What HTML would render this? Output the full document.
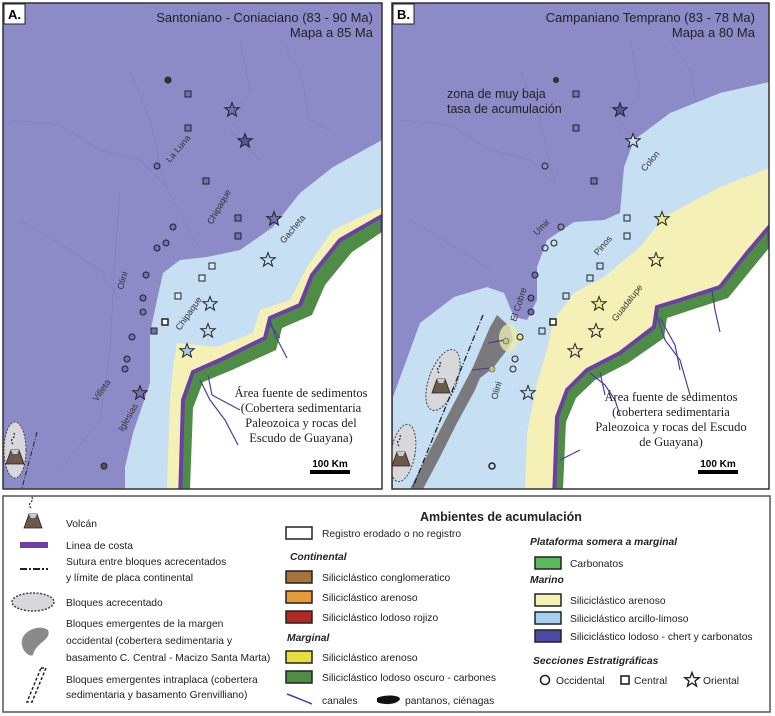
<!DOCTYPE html>
<html><head><meta charset="utf-8">
<style>
html,body{margin:0;padding:0;background:#fff;}
svg{display:block;}
text{font-family:"Liberation Sans Narrow","Liberation Sans",sans-serif;}
.s{font-family:"Liberation Serif",serif;}
</style></head><body>
<svg width="775" height="716" viewBox="0 0 775 716" xmlns="http://www.w3.org/2000/svg">
<defs>
<g id="volc"><path d="M-2,-14 q-3,-3 0,-6 q3,-3 0,-6" fill="none" stroke="#222" stroke-width="1.2" stroke-dasharray="2 1.5"/><polygon points="-9,6 -4,-8 4,-8 9,6" fill="#6b5a4c" stroke="#222" stroke-width="0.8"/><polygon points="-4,-8 4,-8 2,-4 -2,-4" fill="#ccc"/></g>
<path id="st" d="M0,-7.5 L1.9,-2.4 7.2,-2.3 3.1,1 4.5,6.1 0,3.1 -4.5,6.1 -3.1,1 -7.2,-2.3 -1.9,-2.4Z"/>
<clipPath id="ca"><rect x="3" y="3" width="379" height="486"/></clipPath>
<clipPath id="cb"><rect x="392" y="3" width="377" height="486"/></clipPath>
</defs>

<!-- MAP A -->
<g clip-path="url(#ca)">
<rect x="3" y="3" width="379" height="486" fill="#8d8ac8"/>
<g fill="none" stroke="#7c78b6" stroke-width="0.5" opacity="0.8">
<path d="M10,120 L60,125 L100,150 L140,160 L165,185 L200,250"/><path d="M130,70 L150,120 L165,185"/><path d="M240,40 L250,90 L230,130 L260,160"/><path d="M280,40 L300,70 L310,120 L330,130"/><path d="M20,220 L70,250 L100,270 L120,300"/><path d="M120,190 L115,260 L110,350 L100,420 L60,470"/>
</g>
<polygon fill="#c6dff3" points="382,140 333,167 300,193 273,227 240,250 207,257 180,260 163,273 157,300 150,333 150,383 133,433 125,467 125,489 382,489"/>
<polygon fill="#f5f1b6" points="382,207 333,230 307,267 290,300 260,310 253,333 217,347 177,343 173,367 170,400 167,489 382,489"/>
<polygon fill="#4f8d47" stroke="#6d3fa6" stroke-width="4" points="382,216 340,240 312,275 300,305 270,318 265,338 220,360 193,372 183,400 180,500 390,500"/>
<polygon fill="#fff" points="382,232 352,252 325,285 312,315 282,328 276,350 232,370 203,382 193,408 190,489 382,489"/>
<g fill="none" stroke="#4b3f9e" stroke-width="1.2"><path d="M208,375 L212,395 L240,410"/><path d="M200,380 L210,400 L225,420 L238,445"/><path d="M270,320 L275,335 L287,358"/><path d="M268,322 L280,338"/></g>
</g>
<rect x="3" y="3" width="379" height="486" fill="none" stroke="#333" stroke-width="1.5"/>
<rect x="4" y="4" width="21" height="20" fill="#fff" stroke="#222"/>
<text x="8" y="19" font-size="13" font-weight="bold" font-family="Liberation Sans">A.</text>
<text x="373" y="22" font-size="13" text-anchor="end" fill="#222">Santoniano - Coniaciano (83 - 90 Ma)</text>
<text x="373" y="37" font-size="13" text-anchor="end" fill="#222">Mapa a 85 Ma</text>
<g class="s" font-size="12.5" text-anchor="middle" fill="#222"><text class="s" x="301" y="397">Área fuente de sedimentos</text><text class="s" x="301" y="412">(Cobertera sedimentaria</text><text class="s" x="301" y="427">Paleozoica y rocas del</text><text class="s" x="301" y="442">Escudo de Guayana)</text></g>
<text x="330" y="467" font-size="10" font-weight="bold" text-anchor="middle" font-family="Liberation Sans">100 Km</text>
<rect x="310" y="470" width="40" height="4" fill="#000"/>
<ellipse cx="15" cy="450" rx="11" ry="28" fill="#d8d8dc" stroke="#444" stroke-dasharray="2 1.5"/>
<line x1="37" y1="432" x2="22" y2="488" stroke="#222" stroke-dasharray="5 2 1 2"/>
<use href="#volc" x="15" y="458"/>
<g font-size="9" fill="#333">
<text transform="translate(170,163) rotate(-50)">La Luna</text>
<text transform="translate(212,225) rotate(-60)">Chipaque</text>
<text transform="translate(284,244) rotate(-50)">Gacheta</text>
<text transform="translate(123,290) rotate(-75)">Olini</text>
<text transform="translate(180,331) rotate(-55)">Chipaque</text>
<text transform="translate(97,402) rotate(-55)">Villeta</text>
<text transform="translate(123,432) rotate(-60)">Iglesias</text>
</g>
<g stroke="#222" stroke-width="1" fill="#7470b8">
<circle cx="168" cy="80" r="3" fill="#333"/><circle cx="157" cy="166" r="3"/><circle cx="173" cy="227" r="3"/><circle cx="157" cy="248" r="3"/><circle cx="166" cy="243" r="3"/><circle cx="146" cy="275" r="3"/><circle cx="143" cy="298" r="3"/><circle cx="143" cy="312" r="3"/><circle cx="132" cy="337" r="3"/><circle cx="127" cy="359" r="3"/><circle cx="125" cy="369" r="3"/><circle cx="104" cy="466" r="3" fill="#555"/>
<rect x="185" y="91" width="6" height="6"/><rect x="185" y="125" width="6" height="6"/><rect x="203" y="178" width="6" height="6"/><rect x="235" y="215" width="6" height="6"/><rect x="235" y="233" width="6" height="6"/><rect x="151" y="328" width="6" height="6"/>
<rect x="209" y="263" width="6" height="6" fill="#dbe9f6"/><rect x="199" y="275" width="6" height="6" fill="#dbe9f6"/><rect x="175" y="293" width="6" height="6" fill="#dbe9f6"/><rect x="162" y="319" width="6" height="6" fill="#fff" stroke-width="1.5"/>
<use href="#st" x="232" y="110"/><use href="#st" x="245" y="141" fill="#5a55a0"/><use href="#st" x="274" y="219"/><use href="#st" x="140" y="393"/>
<use href="#st" x="268" y="260" fill="#c6dff3"/><use href="#st" x="210" y="304" fill="#c6dff3"/><use href="#st" x="208" y="331" fill="#c6dff3"/><use href="#st" x="187" y="351" fill="#a9cdee"/>
</g>

<!-- MAP B -->
<g clip-path="url(#cb)">
<rect x="392" y="3" width="377" height="486" fill="#8d8ac8"/>
<g fill="none" stroke="#7c78b6" stroke-width="0.5" opacity="0.8">
<path d="M400,120 L450,125 L490,150 L530,160 L555,185"/><path d="M520,70 L540,120 L555,185"/><path d="M630,40 L640,90 L620,130"/><path d="M670,40 L690,70 L700,120"/><path d="M410,220 L460,250 L490,270"/>
</g>
<polygon fill="#c6dff3" points="769,82 720,93 670,113 634,140 624,167 620,213 604,220 574,222 547,240 537,267 537,300 527,320 514,317 504,293 487,287 454,297 420,323 393,397 393,489 769,489"/>
<polygon fill="#f5f1b6" points="769,168 720,187 664,217 640,247 604,277 574,293 554,320 547,350 537,383 527,433 525,489 769,489"/>
<polygon fill="#4f8d47" stroke="#6d3fa6" stroke-width="4" points="769,227 747,253 720,287 680,300 657,307 654,327 620,353 587,370 567,390 557,417 554,500 780,500"/>
<polygon fill="#fff" points="769,248 755,265 728,298 688,311 667,318 664,338 628,363 595,380 576,398 566,422 563,489 769,489"/>
<g fill="none" stroke="#4b3f9e" stroke-width="1.2"><path d="M655,310 L665,340 L680,360 L690,395"/><path d="M660,318 L675,345 L680,370"/><path d="M590,373 L605,385 L615,400 L620,415"/><path d="M600,372 L605,395"/><path d="M712,290 L715,310 L720,332"/><path d="M560,460 L580,450"/></g>
<polygon fill="#7a7a7c" points="497,315 510,327 513,340 507,350 493,368 480,378 475,390 457,423 440,457 423,489 410,489 440,430 473,367 490,327"/>
<ellipse cx="509" cy="338" rx="10" ry="14" fill="#e8eab0" opacity="0.8"/>
<g fill="none" stroke="#4b3f9e" stroke-width="1.2"><path d="M488,343 L505,340"/><path d="M472,370 L490,368"/></g>
<circle cx="506" cy="341" r="3" fill="#c9c07a" stroke="#555" stroke-width="0.6"/><circle cx="492" cy="369" r="3" fill="#c9c07a" stroke="#555" stroke-width="0.6"/>
<ellipse cx="443" cy="380" rx="14" ry="32" transform="rotate(20 443 380)" fill="#d8d8dc" stroke="#444" stroke-dasharray="2 1.5"/>
<ellipse cx="403" cy="453" rx="12" ry="29" transform="rotate(10 403 453)" fill="#d8d8dc" stroke="#444" stroke-dasharray="2 1.5"/>
<line x1="483" y1="315" x2="413" y2="487" stroke="#222" stroke-width="1.3" stroke-dasharray="6 2 1 2"/>
<use href="#volc" x="441" y="387"/><use href="#volc" x="401" y="460"/>
</g>
<rect x="392" y="3" width="377" height="486" fill="none" stroke="#333" stroke-width="1.5"/>
<rect x="393" y="4" width="21" height="20" fill="#fff" stroke="#222"/>
<text x="397" y="19" font-size="13" font-weight="bold" font-family="Liberation Sans">B.</text>
<text x="755" y="22" font-size="13" text-anchor="end" fill="#222">Campaniano Temprano (83 - 78 Ma)</text>
<text x="755" y="37" font-size="13" text-anchor="end" fill="#222">Mapa a 80 Ma</text>
<text x="447" y="98" font-size="12.5" fill="#222">zona de muy baja</text>
<text x="447" y="113" font-size="12.5" fill="#222">tasa de acumulación</text>
<g font-size="12.5" text-anchor="middle" fill="#222"><text class="s" x="671" y="401">Área fuente de sedimentos</text><text class="s" x="671" y="416">(cobertera sedimentaria</text><text class="s" x="671" y="431">Paleozoica y rocas del Escudo</text><text class="s" x="671" y="446">de Guayana)</text></g>
<text x="718" y="467" font-size="10" font-weight="bold" text-anchor="middle" font-family="Liberation Sans">100 Km</text>
<rect x="698" y="470" width="40" height="4" fill="#000"/>
<g font-size="9" fill="#333">
<text transform="translate(645,172) rotate(-50)">Colon</text>
<text transform="translate(537,236) rotate(-45)">Umir</text>
<text transform="translate(598,256) rotate(-50)">Pinos</text>
<text transform="translate(516,322) rotate(-72)">El Cobre</text>
<text transform="translate(616,322) rotate(-52)">Guadalupe</text>
<text transform="translate(497,400) rotate(-75)">Olini</text>
</g>
<g stroke="#222" stroke-width="1" fill="none">
<circle cx="556" cy="80" r="2.5" fill="#333"/><circle cx="545" cy="166" r="3"/><circle cx="561" cy="227" r="3"/><circle cx="545" cy="248" r="3"/><circle cx="554" cy="243" r="3"/>
<circle cx="535" cy="275" r="3" fill="#7470b8"/><circle cx="531" cy="298" r="3" fill="#7470b8"/><circle cx="531" cy="312" r="3" fill="#7470b8"/><circle cx="520" cy="337" r="3" fill="#f3e56a"/>
<circle cx="515" cy="359" r="3"/><circle cx="513" cy="369" r="3"/><circle cx="492" cy="466" r="3" stroke-width="1.5"/>
<rect x="573" y="91" width="6" height="6" fill="#7470b8"/><rect x="573" y="125" width="6" height="6" fill="#7470b8"/><rect x="591" y="178" width="6" height="6" fill="#7470b8"/>
<rect x="624" y="215" width="6" height="6"/><rect x="624" y="233" width="6" height="6"/><rect x="597" y="263" width="6" height="6"/><rect x="587" y="275" width="6" height="6"/><rect x="563" y="293" width="6" height="6"/><rect x="550" y="319" width="6" height="6" fill="#fff" stroke-width="1.5"/><rect x="539" y="328" width="6" height="6"/>
<use href="#st" x="620" y="110" fill="#5a55a0"/><use href="#st" x="633" y="141" fill="#c6dff3"/>
<use href="#st" x="662" y="219" fill="#f3ea8a"/><use href="#st" x="656" y="260" fill="#f5f1b6"/><use href="#st" x="599" y="304" fill="#f3ea8a"/><use href="#st" x="596" y="331" fill="#f5f1b6"/><use href="#st" x="575" y="351" fill="#f5f1b6"/><use href="#st" x="528" y="393" fill="#c6dff3"/>
</g>

<!-- LEGEND -->
<rect x="3" y="496" width="767" height="216" fill="#fff" stroke="#555" stroke-width="1.5"/>
<g font-size="10.3" fill="#222">
<use href="#volc" x="33" y="522"/>
<text x="66" y="527">Volcán</text>
<rect x="20" y="542" width="28" height="6" fill="#6d3fa6"/>
<text x="66" y="549">Linea de costa</text>
<line x1="20" y1="569" x2="48" y2="569" stroke="#222" stroke-width="2" stroke-dasharray="7 2 2 2"/>
<text x="66" y="565">Sutura entre bloques acrecentados</text>
<text x="66" y="581">y límite de placa continental</text>
<ellipse cx="33" cy="602" rx="21" ry="9" fill="#d8d8dc" stroke="#444" stroke-width="1.5" stroke-dasharray="2 1.5"/>
<text x="66" y="606">Bloques acrecentado</text>
<path d="M48,630 C52,640 36,642 33,655 C30,658 20,650 22,640 C24,630 40,624 48,630Z" fill="#8a8a8a"/>
<text x="66" y="627">Bloques emergentes de la margen</text>
<text x="66" y="644">occidental (cobertera sedimentaria y</text>
<text x="66" y="661">basamento C. Central - Macizo Santa Marta)</text>
<path d="M41,668 L46,668 L32,702 L27,702Z" fill="none" stroke="#222" stroke-width="1.5" stroke-dasharray="3 2"/>
<text x="66" y="683">Bloques emergentes intraplaca (cobertera</text>
<text x="66" y="698">sedimentaria y basamento Grenvilliano)</text>

<text x="420" y="521" font-size="12.5" font-weight="bold">Ambientes de acumulación</text>
<rect x="286" y="527" width="26" height="12" fill="#fff" stroke="#222" stroke-width="1.5"/>
<text x="322" y="537">Registro erodado o no registro</text>
<text x="290" y="560" font-style="italic" font-weight="bold">Continental</text>
<rect x="286" y="571" width="26" height="12" fill="#a6743a" stroke="#222" stroke-width="1.5"/><text x="322" y="581">Siliciclástico conglomeratico</text>
<rect x="286" y="591" width="26" height="12" fill="#e89a3a" stroke="#222" stroke-width="1.5"/><text x="322" y="601">Siliciclástico arenoso</text>
<rect x="286" y="611" width="26" height="12" fill="#b02a22" stroke="#222" stroke-width="1.5"/><text x="322" y="621">Siliciclástico lodoso rojizo</text>
<text x="287" y="641" font-style="italic" font-weight="bold">Marginal</text>
<rect x="286" y="651" width="26" height="12" fill="#e9df3c" stroke="#222" stroke-width="1.5"/><text x="322" y="661">Siliciclástico arenoso</text>
<rect x="286" y="671" width="26" height="12" fill="#4f8d47" stroke="#222" stroke-width="1.5"/><text x="322" y="681">Siliciclástico lodoso oscuro - carbones</text>
<path d="M287,694 C295,697 302,700 312,704" fill="none" stroke="#4b3f9e" stroke-width="1.5"/>
<text x="322" y="704">canales</text>
<path d="M377,698 C385,694 400,695 400,699 C398,704 385,706 377,702Z" fill="#111"/>
<text x="405" y="704">pantanos, ciénagas</text>

<text x="530" y="545" font-style="italic" font-weight="bold">Plataforma somera a marginal</text>
<rect x="535" y="557" width="26" height="12" fill="#5cba5a" stroke="#222" stroke-width="1.5"/><text x="570" y="567">Carbonatos</text>
<text x="530" y="583" font-style="italic" font-weight="bold">Marino</text>
<rect x="535" y="594" width="26" height="12" fill="#f6f2b3" stroke="#222" stroke-width="1.5"/><text x="570" y="604">Siliciclástico arenoso</text>
<rect x="535" y="612" width="26" height="12" fill="#a7d0f0" stroke="#222" stroke-width="1.5"/><text x="570" y="622">Siliciclástico arcillo-limoso</text>
<rect x="535" y="630" width="26" height="12" fill="#4c48a8" stroke="#222" stroke-width="1.5"/><text x="570" y="640">Siliciclástico lodoso - chert y carbonatos</text>
<text x="533" y="664" font-style="italic" font-weight="bold">Secciones Estratigráficas</text>
<circle cx="545" cy="680" r="4.5" fill="none" stroke="#222" stroke-width="1.6"/><text x="556" y="684">Occidental</text>
<rect x="621" y="676" width="8" height="8" fill="none" stroke="#222" stroke-width="1.6"/><text x="634" y="684">Central</text>
<use href="#st" x="692" y="680" fill="none" stroke="#222" stroke-width="1.4"/><text x="703" y="684">Oriental</text>
</g>
</svg>
</body></html>
